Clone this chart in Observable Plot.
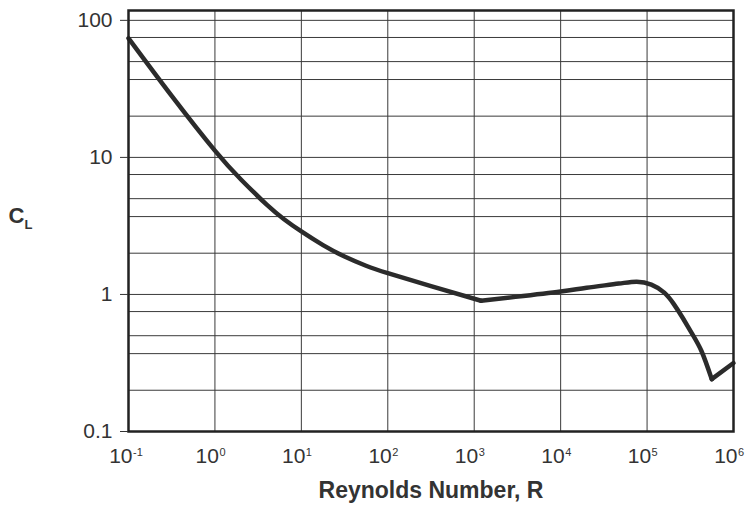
<!DOCTYPE html>
<html>
<head>
<meta charset="utf-8">
<script src="https://cdn.jsdelivr.net/npm/d3@7"></script>
<script src="https://cdn.jsdelivr.net/npm/@observablehq/plot@0.6"></script>
<style>
  html, body { margin: 0; padding: 0; background: #fff; }
  svg { font-family: "Liberation Sans", Arial, sans-serif; }
</style>
</head>
<body>
<div id="chart"></div>
<script>
// Reynolds number (x) and lift coefficient (y)
const reynolds = [0.1, 0.316, 1, 2, 4, 6.3, 10, 17.8, 31.6, 56, 100, 316, 1200, 3000, 1e4, 2e4, 4.7e4, 7.6e4, 1.12e5, 1.58e5, 2.04e5, 2.6e5, 3.3e5, 4.27e5, 5.6e5, 1e6];
const liftCoef = [74, 28.1, 11.2, 6.9, 4.5, 3.54, 2.88, 2.29, 1.89, 1.62, 1.43, 1.15, 0.9, 0.96, 1.05, 1.12, 1.2, 1.24, 1.18, 1.03, 0.85, 0.67, 0.52, 0.385, 0.241, 0.316];
// corners of the curve (local minima)
const corners = [1200, 5.6e5];

// axis ticks and gridlines
const xTicks = [0.1, 1, 10, 100, 1e3, 1e4, 1e5, 1e6];
const xExponents = ["-1", "0", "1", "2", "3", "4", "5", "6"];
const yTicks = [0.1, 1, 10, 100];
const yGrid = [0.2, 0.37, 0.5, 0.75, 1, 2, 3.7, 5, 7.5, 10, 20, 37, 50, 75, 100];

const data = reynolds.map((r, i) => ({R: r, CL: liftCoef[i]}));
const c1 = reynolds.indexOf(corners[0]);
const c2 = reynolds.indexOf(corners[1]);
const partA = data.slice(0, c1 + 1);
const partB = data.slice(c1, c2 + 1);
const partC = data.slice(c2);

const ink = "#2b2b2b";
const textInk = "#333";
const lineStyle = {x: "R", y: "CL", stroke: ink, strokeWidth: 4.5};

const chart = Plot.plot({
  width: 748,
  height: 506,
  marginLeft: 128,
  marginRight: 15,
  marginTop: 10,
  marginBottom: 75,
  x: {type: "log", domain: [0.1, 1e6], axis: null},
  y: {type: "log", domain: [0.1, 118], axis: null},
  marks: [
    Plot.ruleY(yGrid, {stroke: "#3a3a3a", strokeWidth: 1}),
    Plot.ruleX(xTicks, {stroke: "#3a3a3a", strokeWidth: 1}),
    Plot.line(partA, {...lineStyle, curve: "natural"}),
    Plot.line(partB, {...lineStyle, curve: "natural"}),
    Plot.line(partC, {...lineStyle, curve: "linear"}),
    Plot.frame({stroke: "#222", strokeWidth: 2.5}),
    Plot.axisY(yTicks, {
      tickSize: 8, tickPadding: 8, fontSize: 21, stroke: "#333", fill: textInk,
      tickFormat: d => String(d), label: null
    }),
    Plot.text(xTicks, {x: d => d, frameAnchor: "bottom", text: () => "10", textAnchor: "end", dx: 4, dy: 31, fontSize: 21, fill: textInk}),
    Plot.text(xTicks, {x: d => d, frameAnchor: "bottom", text: d => xExponents[xTicks.indexOf(d)], textAnchor: "start", dx: 4.5, dy: 24, fontSize: 11, fill: textInk}),
    Plot.text(["Reynolds Number, R"], {frameAnchor: "bottom", dy: 66, fontSize: 23, fontWeight: "bold", fill: textInk}),
    Plot.text(["C"], {frameAnchor: "left", textAnchor: "start", dx: -120, dy: -5, fontSize: 22, fontWeight: "bold", fill: textInk}),
    Plot.text(["L"], {frameAnchor: "left", textAnchor: "start", dx: -104, dy: 4, fontSize: 13, fontWeight: "bold", fill: textInk})
  ]
});
document.getElementById("chart").appendChild(chart);
</script>
</body>
</html>
